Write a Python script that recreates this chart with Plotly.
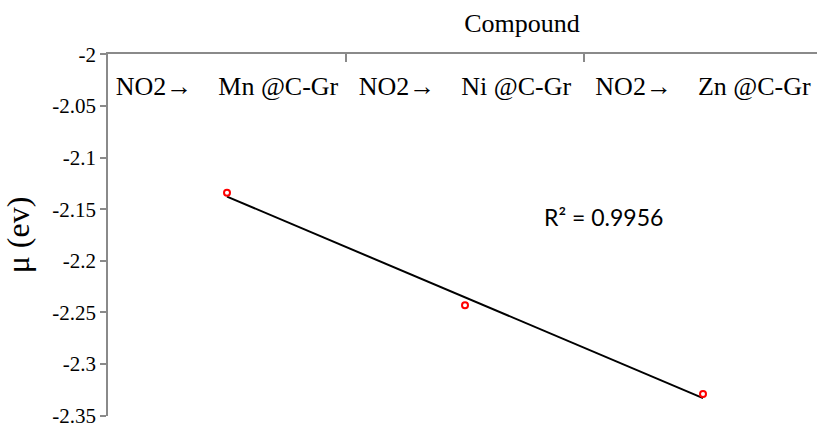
import numpy as np
import plotly.graph_objects as go

# Compound categories (top axis) and chemical potential values
compounds = [
    "NO2\u2192\u00a0\u00a0\u00a0\u00a0Mn @C-Gr",
    "NO2\u2192\u00a0\u00a0\u00a0\u00a0Ni @C-Gr",
    "NO2\u2192\u00a0\u00a0\u00a0\u00a0Zn @C-Gr",
]
mu_ev = [-2.134, -2.243, -2.329]
r_squared_label = "R\u00b2 = 0.9956"

y_tick_vals = [-2.0, -2.05, -2.1, -2.15, -2.2, -2.25, -2.3, -2.35]
y_tick_text = ["-2", "-2.05", "-2.1", "-2.15", "-2.2", "-2.25", "-2.3", "-2.35"]

# Linear trendline over category index
idx = np.arange(len(mu_ev))
slope, intercept = np.polyfit(idx, mu_ev, 1)
trend = slope * idx + intercept

axis_gray = "#8a8a8a"
serif = "Liberation Serif, Times New Roman, serif"

fig = go.Figure()
fig.add_trace(go.Scatter(
    x=compounds, y=trend, mode="lines",
    line=dict(color="black", width=2),
    showlegend=False, hoverinfo="skip",
))
fig.add_trace(go.Scatter(
    x=compounds, y=mu_ev, mode="markers",
    marker=dict(symbol="circle-open", size=6, color="#ff0000",
                line=dict(color="#ff0000", width=2)),
    showlegend=False,
))

fig.add_annotation(
    x=1.58, y=-2.1575, xref="x", yref="y",
    text=r_squared_label, showarrow=False,
    font=dict(family="Lato, Carlito, sans-serif", size=23, color="black"),
)

fig.update_layout(
    width=817, height=423,
    margin=dict(l=108, r=0, t=54, b=7),
    plot_bgcolor="white", paper_bgcolor="white",
    title=dict(
        text="Compound", x=477 / 817, xanchor="center",
        xref="paper", yref="container", y=1 - 23 / 423, yanchor="middle",
        font=dict(family=serif, size=26, color="black"),
    ),
    xaxis=dict(
        type="category", categoryorder="array", categoryarray=compounds,
        side="top", range=[-0.5, 2.479], automargin=False,
        showline=True, linecolor=axis_gray, linewidth=1.5,
        ticks="inside", ticklen=8, tickcolor=axis_gray, tickwidth=1.5,
        tickson="boundaries", ticklabelposition="inside",
        ticklabelstandoff=17, ticklabeloverflow="allow",
        tickfont=dict(family=serif, size=26, color="black"),
        showgrid=False, zeroline=False,
    ),
    yaxis=dict(
        range=[-2.3502, -1.9998], automargin=False,
        tickvals=y_tick_vals, ticktext=y_tick_text,
        ticklabeloverflow="allow",
        showline=True, linecolor=axis_gray, linewidth=1.5,
        ticks="outside", ticklen=6, tickcolor=axis_gray, tickwidth=1.5,
        tickfont=dict(family=serif, size=21, color="black"),
        showgrid=False, zeroline=False,
        title=dict(text="\u03bc (ev)", standoff=17,
                   font=dict(family=serif, size=32, color="black")),
    ),
)

fig.write_html("out.html")
